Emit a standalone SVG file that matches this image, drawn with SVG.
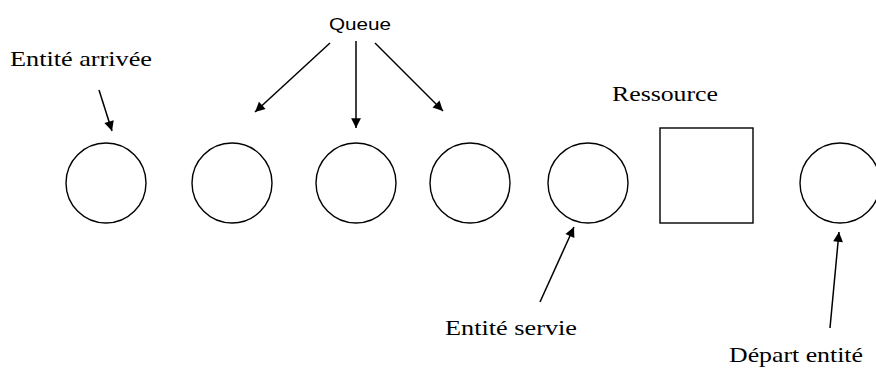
<svg xmlns="http://www.w3.org/2000/svg" width="876" height="369" viewBox="0 0 876 369">
  <style>
    .node { fill: #ffffff; stroke: #000000; stroke-width: 1.4; }
    .label { font-family: "Liberation Serif", "Times New Roman", serif; font-size: 22px; fill: #000000; }
    .sans { font-family: "Liberation Sans", Arial, sans-serif; font-size: 17px; fill: #000000; }
    .arrow { fill: none; stroke: #000000; stroke-width: 1.5; marker-end: url(#head); }
  </style>
  <defs>
    <marker id="head" viewBox="0 0 10 10" refX="10" refY="5" markerWidth="7" markerHeight="7" markerUnits="userSpaceOnUse" orient="auto" overflow="visible">
      <path d="M0,0 L10,5 L0,10 Z" fill="#000000" transform="scale(1.4) translate(-2.9,-1.45)"/>
    </marker>
  </defs>
  <rect width="876" height="369" fill="#ffffff"/>

  <!-- entities in the queue -->
  <g id="entity-arrival"><circle class="node" cx="106" cy="183" r="40"/></g>
  <g id="queue-1"><circle class="node" cx="232" cy="183" r="40"/></g>
  <g id="queue-2"><circle class="node" cx="356" cy="183" r="40"/></g>
  <g id="queue-3"><circle class="node" cx="470" cy="183" r="40"/></g>
  <g id="entity-served"><circle class="node" cx="588" cy="183" r="40"/></g>
  <g id="resource"><rect class="node" x="660" y="128" width="93" height="95"/></g>
  <g id="entity-departure"><circle class="node" cx="840" cy="183" r="40"/></g>

  <!-- pointers from labels to elements -->
  <g id="connectors">
    <line class="arrow" x1="99" y1="90" x2="112" y2="131"/>
    <line class="arrow" x1="330" y1="43" x2="255" y2="112"/>
    <line class="arrow" x1="356" y1="41" x2="356" y2="128"/>
    <line class="arrow" x1="375" y1="43" x2="443" y2="111"/>
    <line class="arrow" x1="540" y1="302" x2="574" y2="227"/>
    <line class="arrow" x1="830" y1="328" x2="839" y2="232"/>
  </g>

  <!-- labels -->
  <g id="labels">
    <text class="label" x="10" y="66" textLength="142" lengthAdjust="spacingAndGlyphs">Entité arrivée</text>
    <text class="sans" x="329" y="30" textLength="62" lengthAdjust="spacingAndGlyphs">Queue</text>
    <text class="label" x="612" y="101" textLength="106" lengthAdjust="spacingAndGlyphs">Ressource</text>
    <text class="label" x="445" y="335" textLength="132" lengthAdjust="spacingAndGlyphs">Entité servie</text>
    <text class="label" x="729" y="362" textLength="134" lengthAdjust="spacingAndGlyphs">Départ entité</text>
  </g>
</svg>
